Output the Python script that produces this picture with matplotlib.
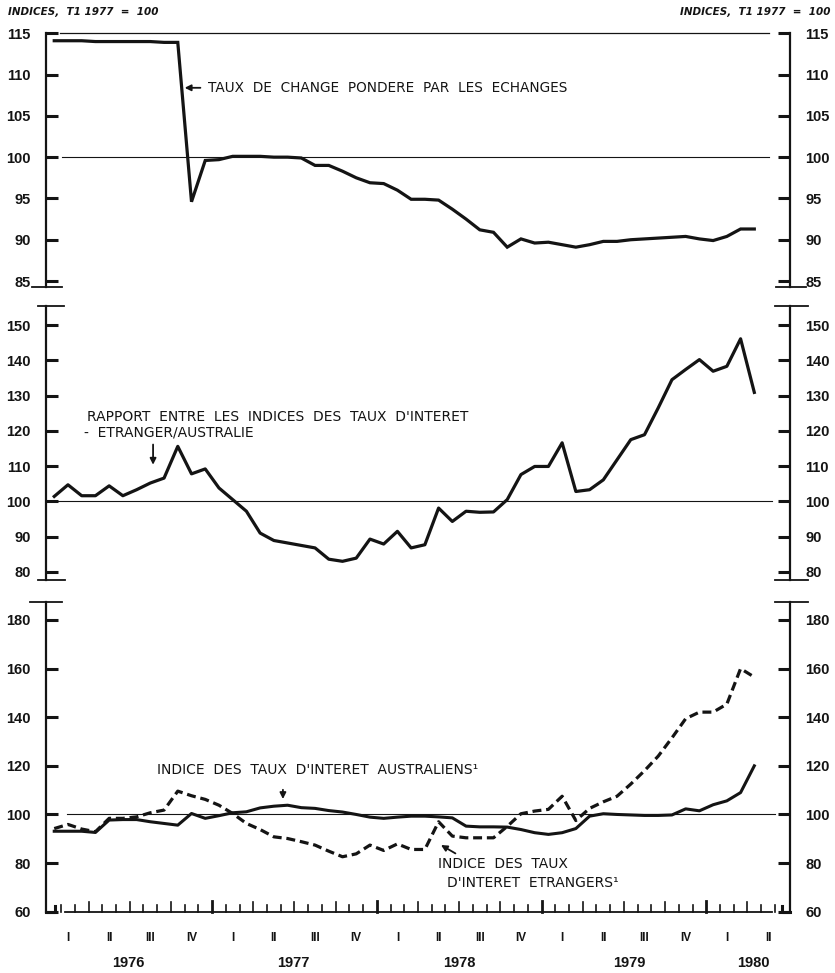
import numpy as np
import matplotlib.pyplot as plt
from matplotlib.lines import Line2D

W, H = 835, 973

# months since Jan 1976 (end-of-month values), Jan 1976 .. Apr 1980
months = np.arange(52)

taux_change = [114.1, 114.1, 114.1, 114.0, 114.0, 114.0, 114.0, 114.0, 113.9, 113.9,
               94.6, 99.6, 99.7, 100.1, 100.1, 100.1, 100.0, 100.0, 99.9, 99.0,
               99.0, 98.3, 97.5, 96.9, 96.8, 96.0, 94.9, 94.9, 94.8, 93.7,
               92.5, 91.2, 90.9, 89.1, 90.1, 89.6, 89.7, 89.4, 89.1, 89.4,
               89.8, 89.8, 90.0, 90.1, 90.2, 90.3, 90.4, 90.1, 89.9, 90.4,
               91.3, 91.3]

rapport = [101.4, 104.7, 101.6, 101.6, 104.4, 101.6, 103.3, 105.2, 106.6, 115.6,
           107.8, 109.2, 103.8, 100.5, 97.2, 91.0, 88.9, 88.2, 87.5, 86.8,
           83.6, 83.0, 83.9, 89.3, 87.9, 91.5, 86.8, 87.7, 98.1, 94.3,
           97.2, 96.9, 97.0, 100.5, 107.6, 109.9, 109.9, 116.6, 102.8, 103.3,
           106.1, 111.8, 117.5, 118.9, 126.5, 134.5, 137.4, 140.2, 136.9, 138.3,
           146.1, 130.9]

taux_australiens = [93.1, 93.1, 93.1, 92.6, 97.7, 97.9, 97.9, 97.0, 96.3, 95.6,
                    100.4, 98.4, 99.5, 100.7, 101.1, 102.7, 103.4, 103.8, 102.8, 102.5,
                    101.6, 101.0, 100.0, 98.9, 98.4, 98.9, 99.3, 99.3, 99.0, 98.6,
                    95.2, 94.9, 94.9, 94.8, 93.8, 92.5, 91.8, 92.5, 94.2, 99.3,
                    100.3, 100.0, 99.8, 99.6, 99.6, 99.8, 102.3, 101.5, 104.0, 105.6,
                    109.0, 120.0]

taux_etrangers = [94.2, 95.9, 94.0, 92.9, 98.4, 98.4, 99.0, 100.7, 101.8, 109.6,
                  107.7, 106.2, 103.8, 100.4, 96.3, 93.8, 90.8, 90.1, 88.8, 87.4,
                  84.9, 82.6, 83.8, 87.4, 85.2, 87.9, 85.6, 85.6, 97.0, 91.1,
                  90.4, 90.4, 90.4, 95.1, 100.3, 101.4, 102.1, 107.5, 97.5, 102.5,
                  105.2, 107.5, 112.5, 118.0, 124.0, 131.5, 139.4, 142.1, 142.1, 145.4,
                  160.0, 156.5]

quarter_pos = [1, 4, 7, 10, 13, 16, 19, 22, 25, 28, 31, 34, 37, 40, 43, 46, 49, 52]
quarter_lab = ["I", "II", "III", "IV", "I", "II", "III", "IV", "I", "II", "III", "IV",
               "I", "II", "III", "IV", "I", "II"]
year_pos = [5.4, 17.4, 29.5, 41.9, 50.9]
year_lab = ["1976", "1977", "1978", "1979", "1980"]

INK = "#141414"
NUM = ["Liberation Sans", "DejaVu Sans"]
XL = (-0.6, 53.6)


def px(x, y):
    return x / W, 1 - y / H


fig = plt.figure(figsize=(W / 100, H / 100), dpi=100)
fig.patch.set_facecolor("white")


def panel(top, bottom, ylim, yticks):
    l, b = px(46, bottom)
    ax = fig.add_axes([l, b, (790 - 46) / W, (bottom - top) / H])
    ax.set_xlim(*XL)
    ax.set_ylim(*ylim)
    for s in ["top", "bottom"]:
        ax.spines[s].set_visible(False)
    for s in ["left", "right"]:
        ax.spines[s].set_linewidth(1.6)
        ax.spines[s].set_color(INK)
    ax.set_xticks([])
    ax.set_yticks(yticks)
    ax.tick_params(axis="y", direction="in", length=8.5, width=2.2, color=INK,
                   left=True, right=True, labelleft=True, labelright=True, pad=11)
    for lab in ax.get_yticklabels():
        lab.set_fontfamily(NUM)
        lab.set_fontweight("bold")
        lab.set_fontsize(10.5)
        lab.set_color(INK)
    return ax


def brk(y, xl=(32, 62), xr=(776, 806)):
    for a, b_ in (xl, xr):
        fig.add_artist(Line2D([a / W, b_ / W], [1 - y / H, 1 - y / H],
                              color=INK, lw=1.3, transform=fig.transFigure))


# ---- panel 1 : taux de change
ax1 = panel(33.3, 286.8, (84.3, 115), [85, 90, 95, 100, 105, 110, 115])
ax1.plot([0.4, 52.1], [115, 115], color=INK, lw=0.9, clip_on=False)
ax1.plot([0.6, 52.1], [100, 100], color=INK, lw=0.8)
ax1.plot(months, taux_change, color=INK, lw=2.3, solid_joinstyle="miter")
ax1.annotate("", xy=(9.3, 108.4), xytext=(10.85, 108.4),
             arrowprops=dict(arrowstyle="-|>", color=INK, lw=1.3, mutation_scale=9))
ax1.text(11.2, 108.4, "TAUX  DE  CHANGE  PONDERE  PAR  LES  ECHANGES",
         fontsize=9.8, color=INK, va="center")
brk(286.8)

# ---- panel 2 : rapport
ax2 = panel(306, 580, (77.7, 155.4), [80, 90, 100, 110, 120, 130, 140, 150])
ax2.plot([-0.1, 52.3], [100, 100], color=INK, lw=0.8)
ax2.plot(months, rapport, color=INK, lw=2.3)
ax2.text(2.4, 124.0, "RAPPORT  ENTRE  LES  INDICES  DES  TAUX  D'INTERET",
         fontsize=10, color=INK, va="center")
ax2.text(2.2, 119.5, "-  ETRANGER/AUSTRALIE", fontsize=10, color=INK, va="center")
ax2.annotate("", xy=(7.2, 109.6), xytext=(7.2, 116.9),
             arrowprops=dict(arrowstyle="-|>", color=INK, lw=1.3, mutation_scale=9))
brk(306, (38, 64), (775, 808))
brk(580, (38, 65), (775, 808))

# ---- panel 3 : taux d'interet
ax3 = panel(602, 911.7, (60, 187.4), [60, 80, 100, 120, 140, 160, 180])
ax3.plot([0.9, 52.5], [100, 100], color=INK, lw=0.8)
ax3.plot(months, taux_australiens, color=INK, lw=2.2)
ax3.plot(months, taux_etrangers, color=INK, lw=2.3, dashes=(2.8, 1.5))
ax3.text(7.5, 118.4, "INDICE  DES  TAUX  D'INTERET  AUSTRALIENS\u00b9",
         fontsize=10, color=INK, va="center")
ax3.annotate("", xy=(16.66, 105.2), xytext=(16.66, 111.3),
             arrowprops=dict(arrowstyle="-|>", color=INK, lw=1.3, mutation_scale=9))
ax3.text(27.95, 79.8, "INDICE  DES  TAUX", fontsize=10, color=INK, va="center")
ax3.text(28.6, 71.9, "D'INTERET  ETRANGERS\u00b9", fontsize=10, color=INK, va="center")
ax3.annotate("", xy=(28.0, 88.0), xytext=(29.4, 83.4),
             arrowprops=dict(arrowstyle="-|>", color=INK, lw=1.3, mutation_scale=9))
brk(602, (30, 62), (775, 808))

# time axis: baseline, monthly ticks, taller at quarters and years
ax3.plot([0.8, 52.3], [60, 60], color=INK, lw=1.3, clip_on=False)
ticks = np.arange(0.5, 52.6, 1.0)
for t in ticks:
    k = int(t + 0.5)
    if k % 12 == 0:
        ax3.plot([t, t], [60, 64.3], color=INK, lw=2.0, clip_on=False)
    elif k % 3 == 0:
        ax3.plot([t, t], [60, 63.8], color=INK, lw=1.2, clip_on=False)
    else:
        ax3.plot([t, t], [60, 62.6], color=INK, lw=1.2, clip_on=False)
# U-shaped ends of the baseline
ax3.plot([XL[0], 0.05, 0.05], [60, 60, 62.3], color=INK, lw=2.2, clip_on=False)
ax3.plot([XL[1], 53.0, 53.0], [60, 60, 62.3], color=INK, lw=2.2, clip_on=False)

for p, s in zip(quarter_pos, quarter_lab):
    ax3.text(p, 49.2, s, ha="center", va="center", fontsize=8.5,
             family=NUM, weight="bold", color=INK)
for p, s in zip(year_pos, year_lab):
    ax3.text(p, 38.9, s, ha="center", va="center", fontsize=10.5,
             family=NUM, weight="bold", color=INK)

# headers
x, y = px(8, 12)
fig.text(x, y, "INDICES,  T1 1977  =  100", fontsize=7.5, style="italic",
         weight="bold", color=INK, va="center", ha="left")
x, y = px(830, 12)
fig.text(x, y, "INDICES,  T1 1977  =  100", fontsize=7.5, style="italic",
         weight="bold", color=INK, va="center", ha="right")

fig.savefig("out.png", dpi=100, facecolor="white")
